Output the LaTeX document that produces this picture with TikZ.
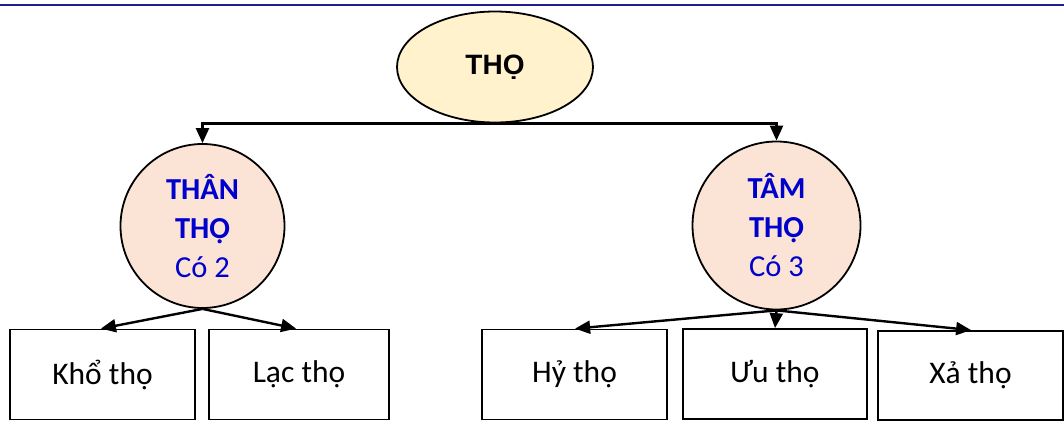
\documentclass[tikz,border=0pt]{standalone}
\usepackage{fontspec}
\setmainfont{Carlito}
\newfontfamily\arialf{Liberation Sans}
\usetikzlibrary{arrows.meta,shapes.geometric}
\definecolor{topline}{RGB}{30,30,140}
\definecolor{ellfill}{RGB}{255,242,204}
\definecolor{circfill}{RGB}{251,228,214}
\definecolor{txtblue}{RGB}{0,0,204}
\tikzset{
  arr/.style={line width=2.4pt,-{Triangle[length=15pt,width=13pt]}},
  leaf/.style={draw,line width=1.8pt,minimum width=184pt,minimum height=90pt,inner sep=0pt,font=\fontsize{31.5}{36}\selectfont},
  mid/.style={circle,draw,line width=1.8pt,fill=circfill,inner sep=0pt,align=center,text=txtblue,font=\fontsize{30.5}{39}\selectfont},
}
\begin{document}
\begin{tikzpicture}[x=1pt,y=-1pt]
\useasboundingbox (0,0) rectangle (1064,422);
\coordinate (tl) at (0,5.5);
\coordinate (tr) at (1064,5.5);
\draw[topline,line width=2pt] (tl) -- (tr);
\node[ellipse,draw,line width=1.8pt,fill=ellfill,minimum width=196pt,minimum height=111pt,inner sep=0pt,font=\arialf\bfseries\fontsize{28}{32}\selectfont] (tho) at (495,67) {THỌ};
\node[mid,minimum size=164pt] (than) at (202.5,226) {\textbf{THÂN}\\\textbf{THỌ}\\Có 2};
\node[mid,minimum size=168pt] (tam) at (776.5,225.5) {\textbf{TÂM}\\\textbf{THỌ}\\Có 3};
\node[leaf,minimum width=185pt] (kho) at (102.5,374.5) {Khổ thọ};
\node[leaf,minimum width=180pt] (lac) at (299,374.5) {Lạc thọ};
\node[leaf,minimum width=185pt] (hy) at (574.5,374.5) {Hỷ thọ};
\node[leaf,minimum width=184pt] (uu) at (775,374) {Ưu thọ};
\node[leaf,minimum width=185pt,minimum height=89pt] (xa) at (970.5,375.5) {Xả thọ};
\draw[arr] (tho.south) -| (than.north);
\draw[arr] (tho.south) -| (tam.north);
\draw[arr] (than.south) -- ([xshift=-95pt]kho.north east);
\draw[arr] (than.south) -- ([xshift=88pt]lac.north west);
\draw[arr] (tam.south) -- ([xshift=94pt]hy.north west);
\draw[arr] (tam.south) -- (uu.north);
\draw[arr] (tam.south) -- ([xshift=94pt]xa.north west);
\end{tikzpicture}
\end{document}
